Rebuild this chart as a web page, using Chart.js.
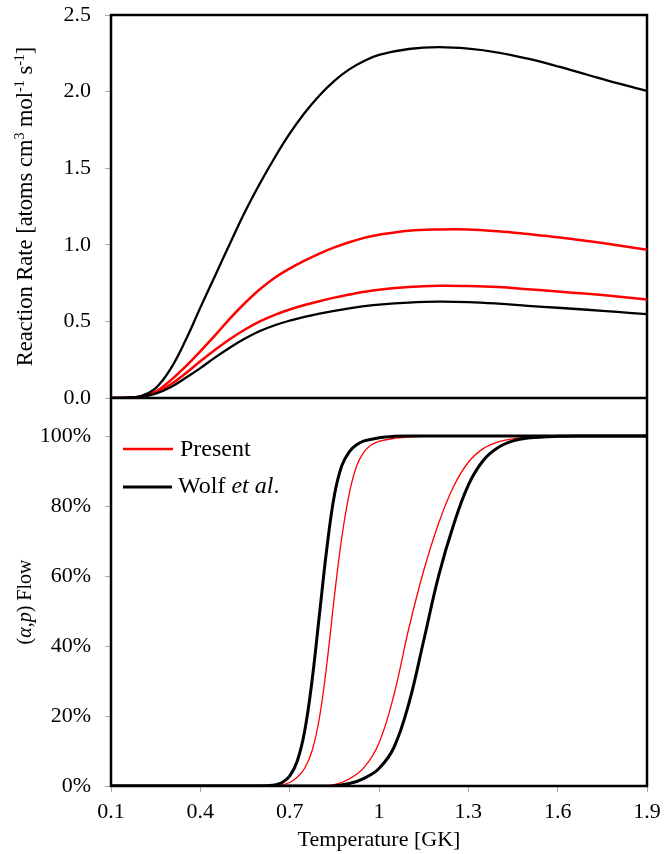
<!DOCTYPE html>
<html>
<head>
<meta charset="utf-8">
<script src="https://cdn.jsdelivr.net/npm/chart.js@4.4.0/dist/chart.umd.min.js"></script>
<style>html,body{margin:0;padding:0;background:#fff}canvas{display:block}</style>
</head>
<body>
<canvas id="c" width="664" height="854"></canvas>
<script>
// ---------- DATA ----------
// Top panel: reaction rates vs temperature (GK)
const rateTemps   = [0.1,0.15,0.2,0.25,0.3,0.35,0.4,0.45,0.5,0.55,0.6,0.65,0.7,0.75,0.8,0.85,0.9,0.95,1.0,1.1,1.2,1.3,1.4,1.5,1.6,1.7,1.8,1.9];
const wolfHigh    = [0,0.002,0.013,0.065,0.19,0.375,0.59,0.80,1.01,1.215,1.40,1.57,1.725,1.86,1.975,2.07,2.145,2.20,2.24,2.278,2.29,2.28,2.255,2.215,2.165,2.11,2.055,2.005];
const presentHigh = [0,0.001,0.01,0.042,0.115,0.205,0.305,0.41,0.52,0.62,0.71,0.785,0.845,0.897,0.943,0.983,1.017,1.045,1.066,1.092,1.10,1.10,1.088,1.07,1.05,1.025,0.997,0.968];
const presentLow  = [0,0.001,0.008,0.035,0.088,0.16,0.24,0.315,0.385,0.447,0.50,0.543,0.578,0.607,0.632,0.655,0.675,0.693,0.707,0.725,0.733,0.731,0.724,0.71,0.695,0.68,0.663,0.643];
const wolfLow     = [0,0.001,0.006,0.028,0.07,0.13,0.195,0.265,0.33,0.388,0.437,0.475,0.505,0.53,0.551,0.569,0.585,0.599,0.61,0.623,0.629,0.626,0.616,0.602,0.589,0.576,0.562,0.547];

// Bottom panel: (a,p) flow in percent
const wolfFlowAT    = [0.1,0.6,0.65,0.675,0.7,0.725,0.75,0.775,0.8,0.825,0.85,0.875,0.9,0.925,0.95,1.0,1.05,1.1,1.9];
const wolfFlowAV    = [0,0,0.3,1,2.8,7,15.5,30,49,68,83,91.5,95.5,97.5,98.6,99.5,99.9,100,100];
const presentFlowAT = [0.1,0.65,0.7,0.725,0.75,0.775,0.8,0.825,0.85,0.875,0.9,0.925,0.95,0.975,1.0,1.05,1.1,1.2,1.9];
const presentFlowAV = [0,0,1,2.5,5,10,19.5,35,54,71,83.5,91.5,95.5,97.5,98.5,99.3,99.7,100,100];
const presentFlowBT = [0.1,0.8,0.85,0.9,0.95,1.0,1.05,1.1,1.15,1.2,1.25,1.3,1.35,1.4,1.45,1.5,1.6,1.7,1.9];
const presentFlowBV = [0,0,0.4,2,5.3,12.3,26,45,61.5,75,85.5,92.5,96.4,98.3,99.2,99.6,99.9,100,100];
const wolfFlowBT    = [0.1,0.84,0.9,0.95,1.0,1.05,1.1,1.15,1.2,1.25,1.3,1.35,1.4,1.45,1.5,1.6,1.7,1.9];
const wolfFlowBV    = [0,0,0.7,2.2,5,11,23.5,41.5,60,74.5,86,93,96.7,98.6,99.4,99.9,100,100];

// Tick labels
const xTicks    = [0.1,0.4,0.7,1,1.3,1.6,1.9];
const rateTicks = [0,0.5,1,1.5,2,2.5];
const flowTicks = [0,20,40,60,80,100];

// ---------- CHART ----------
const SERIF = "'Liberation Serif','Times New Roman',serif";
Chart.defaults.font.family = SERIF;
Chart.defaults.color = '#000';

const pts = (xs, ys) => xs.map((x, i) => ({x: x, y: ys[i]}));
const gridOpts = {drawOnChartArea: false, drawTicks: true, tickLength: 6, color: '#a8a8a8', lineWidth: 1};
const noPad = sc => { sc.paddingTop = 0; sc.paddingBottom = 0; sc.paddingLeft = 0; sc.paddingRight = 0; };

function drawRuns(ctx, runs, cx, cy, rotate) {
  ctx.save();
  ctx.translate(cx, cy);
  if (rotate) ctx.rotate(-Math.PI / 2);
  ctx.textBaseline = 'alphabetic';
  ctx.textAlign = 'left';
  let total = 0;
  runs.forEach(r => {
    ctx.font = (r.italic ? 'italic ' : '') + r.size + 'px ' + SERIF;
    r.w = ctx.measureText(r.t).width;
    total += r.w;
  });
  let x = rotate ? -total / 2 : 0;
  ctx.fillStyle = '#000';
  runs.forEach(r => {
    ctx.font = (r.italic ? 'italic ' : '') + r.size + 'px ' + SERIF;
    ctx.fillText(r.t, x, r.dy || 0);
    x += r.w;
  });
  ctx.restore();
}

const decorPlugin = {
  id: 'decor',
  beforeDatasetsDraw(chart) {
    const {ctx, chartArea: a} = chart;
    ctx.save();
    ctx.strokeStyle = '#000';
    ctx.lineWidth = 2.5;
    ctx.strokeRect(a.left, a.top, a.right - a.left, a.bottom - a.top);
    ctx.restore();
  },
  afterDatasetsDraw(chart) {
    const {ctx, chartArea: a, scales} = chart;
    ctx.save();
    ctx.strokeStyle = '#000';
    ctx.lineWidth = 2.5;
    ctx.beginPath();
    ctx.moveTo(a.left, scales.yRate.bottom);
    ctx.lineTo(a.right, scales.yRate.bottom);
    ctx.stroke();
    // legend
    ctx.lineWidth = 2.5;
    ctx.strokeStyle = '#ff0000';
    ctx.beginPath(); ctx.moveTo(123, 449); ctx.lineTo(173, 449); ctx.stroke();
    ctx.lineWidth = 3;
    ctx.strokeStyle = '#000';
    ctx.beginPath(); ctx.moveTo(123, 487); ctx.lineTo(172, 487); ctx.stroke();
    ctx.restore();
    drawRuns(ctx, [{t: 'Present', size: 24}], 180, 456, false);
    drawRuns(ctx, [{t: 'Wolf ', size: 24}, {t: 'et al', size: 24, italic: true}, {t: '.', size: 24}], 178, 493, false);
    // y-axis titles
    const S = 22.5, s = 14;
    drawRuns(ctx, [
      {t: 'Reaction Rate [atoms cm', size: S},
      {t: '3', size: s, dy: -8},
      {t: ' mol', size: S},
      {t: '-1', size: s, dy: -8},
      {t: ' s', size: S},
      {t: '-1', size: s, dy: -8},
      {t: ']', size: S}
    ], 31.5, 206.5, true);
    drawRuns(ctx, [
      {t: '(', size: 20},
      {t: 'α', size: 20, italic: true},
      {t: ',', size: 20},
      {t: 'p', size: 20, italic: true},
      {t: ') Flow', size: 20}
    ], 31, 602, true);
  }
};

const rateDs = (data, color, width) => ({
  data: data, yAxisID: 'yRate', borderColor: color, backgroundColor: color,
  borderWidth: width, pointRadius: 0, fill: false, tension: 0.4
});
const flowDs = (data, color, width) => ({
  data: data, yAxisID: 'yFlow', borderColor: color, backgroundColor: color,
  borderWidth: width, pointRadius: 0, fill: false, tension: 0.4
});

new Chart(document.getElementById('c'), {
  type: 'line',
  data: {
    datasets: [
      rateDs(pts(rateTemps, wolfHigh), '#000', 2.3),
      rateDs(pts(rateTemps, wolfLow), '#000', 2.3),
      rateDs(pts(rateTemps, presentHigh), '#ff0000', 2.5),
      rateDs(pts(rateTemps, presentLow), '#ff0000', 2.5),
      flowDs(pts(wolfFlowAT, wolfFlowAV), '#000', 3),
      flowDs(pts(wolfFlowBT, wolfFlowBV), '#000', 3),
      flowDs(pts(presentFlowAT, presentFlowAV), '#ff0000', 1.3),
      flowDs(pts(presentFlowBT, presentFlowBV), '#ff0000', 1.3)
    ]
  },
  options: {
    responsive: false,
    animation: false,
    layout: {padding: {left: 0, top: 15, right: 17, bottom: 0}},
    plugins: {legend: {display: false}, tooltip: {enabled: false}},
    scales: {
      x: {
        type: 'linear', min: 0.1, max: 1.9,
        afterBuildTicks: sc => { sc.ticks = xTicks.map(v => ({value: v})); },
        ticks: {font: {size: 22}, padding: 7, maxRotation: 0, autoSkip: false,
                callback: v => String(Math.round(v * 10) / 10)},
        grid: gridOpts,
        border: {display: false},
        title: {display: true, text: 'Temperature [GK]', font: {size: 22}, padding: {top: 0, bottom: 1}},
        afterFit: sc => { sc.height = 68; noPad(sc); }
      },
      yFlow: {
        type: 'linear', position: 'left', stack: 'panels', stackWeight: 388,
        min: 0, max: 110.86,
        afterBuildTicks: sc => { sc.ticks = flowTicks.map(v => ({value: v})); },
        ticks: {font: {size: 22}, padding: 14, autoSkip: false, callback: v => v + '%'},
        grid: gridOpts,
        border: {display: false},
        afterFit: sc => { sc.width = 111; noPad(sc); }
      },
      yRate: {
        type: 'linear', position: 'left', stack: 'panels', stackWeight: 383,
        min: 0, max: 2.5,
        afterBuildTicks: sc => { sc.ticks = rateTicks.map(v => ({value: v})); },
        ticks: {font: {size: 22}, padding: 14, autoSkip: false, callback: v => v.toFixed(1)},
        grid: gridOpts,
        border: {display: false},
        afterFit: sc => { sc.width = 111; noPad(sc); }
      }
    }
  },
  plugins: [decorPlugin]
});
</script>
</body>
</html>
